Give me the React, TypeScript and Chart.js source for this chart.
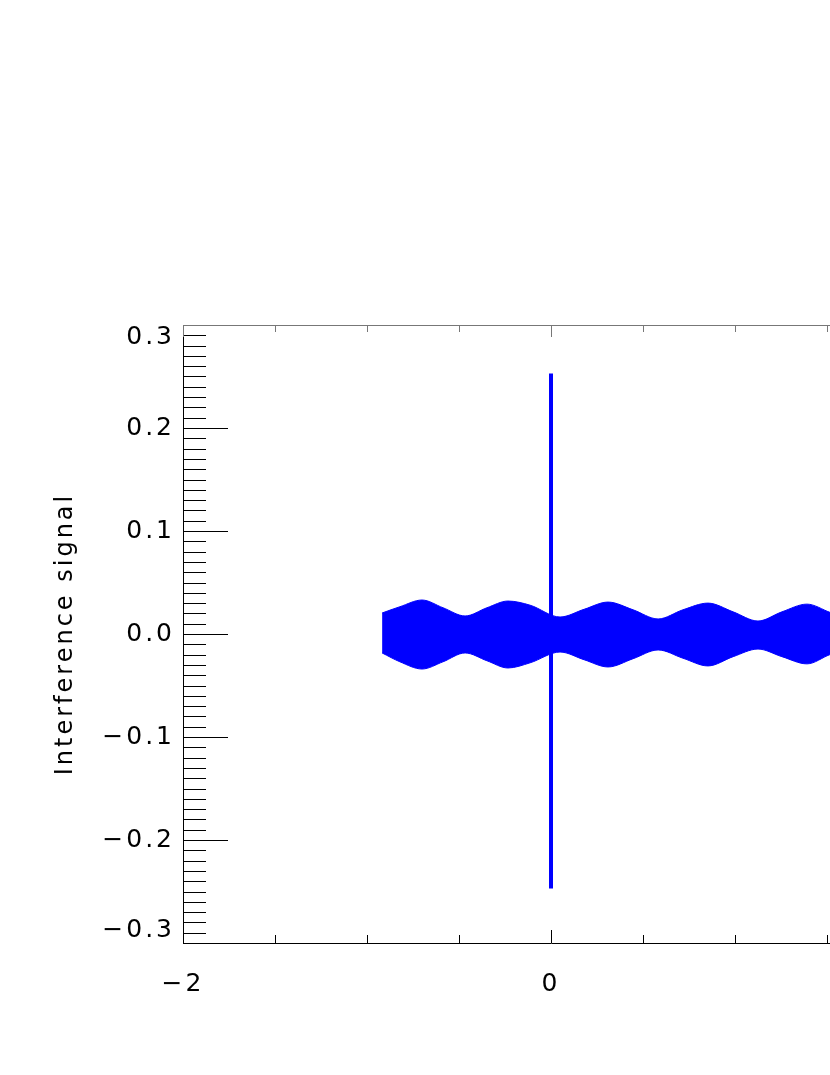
import { useEffect, useRef } from "react";
import { Chart, registerables } from "chart.js";

Chart.register(...registerables);

// Envelope of the densely oscillating interference signal
const envX = [-0.918, -0.821, -0.701, -0.587, -0.467, -0.348, -0.234, -0.114, 0.049, 0.18, 0.31, 0.446, 0.582, 0.717, 0.853, 0.99, 1.125, 1.255, 1.391, 1.516, 1.66];
const envUpper = [0.0204, 0.0265, 0.033, 0.0255, 0.0175, 0.0255, 0.032, 0.028, 0.0165, 0.024, 0.031, 0.0235, 0.0146, 0.0235, 0.03, 0.0215, 0.0126, 0.0215, 0.029, 0.021, 0.012];
const envLower = [-0.0184, -0.027, -0.034, -0.027, -0.0184, -0.026, -0.033, -0.028, -0.0175, -0.025, -0.032, -0.024, -0.0155, -0.0235, -0.031, -0.022, -0.0146, -0.022, -0.029, -0.02, -0.012];

// Central spike at zero path difference
const spikeX = [0, 0];
const spikeY = [-0.247, 0.253];

const xTickValues = [-2, 0, 2];
const xTickLabels = ["\u22122", "0", "2"];
const yTickValues = [-0.3, -0.2, -0.1, 0, 0.1, 0.2, 0.3];
const yTickLabels = ["\u22120.3", "\u22120.2", "\u22120.1", "0.0", "0.1", "0.2", "0.3"];
const xMinorStep = 0.5;
const yMinorStep = 0.01;
const yAxisTitle = "Interference signal";

const BLUE = "#0000ff";
const FONT = "'DejaVu Sans', sans-serif";

const idlAxesPlugin = {
  id: "idlAxes",
  beforeDraw(chart: any) {
    chart.ctx.letterSpacing = "3px";
  },
  afterDraw(chart: any) {
    const { ctx, chartArea } = chart;
    const { left, right, top, bottom } = chartArea;
    const xs = chart.scales.x;
    const ys = chart.scales.y;
    ctx.save();
    ctx.lineWidth = 1;
    ctx.strokeStyle = "#000";
    ctx.beginPath();
    const nY = Math.round((ys.max - ys.min) / yMinorStep);
    for (let i = 0; i <= nY; i++) {
      const v = ys.min + i * yMinorStep;
      const major = Math.abs(v * 10 - Math.round(v * 10)) < 1e-6;
      const p = Math.round(ys.getPixelForValue(v)) + 0.5;
      ctx.moveTo(left, p);
      ctx.lineTo(left + (major ? 45 : 23), p);
    }
    const nX = Math.round((xs.max - xs.min) / xMinorStep);
    for (let i = 0; i <= nX; i++) {
      const v = xs.min + i * xMinorStep;
      const major = Math.abs(v / 2 - Math.round(v / 2)) < 1e-6;
      const p = Math.round(xs.getPixelForValue(v)) + 0.5;
      ctx.moveTo(p, bottom);
      ctx.lineTo(p, bottom - (major ? 13 : 8));
    }
    ctx.stroke();
    ctx.strokeStyle = "#777";
    ctx.beginPath();
    ctx.moveTo(left, top + 0.5);
    ctx.lineTo(right, top + 0.5);
    ctx.moveTo(right - 0.5, top);
    ctx.lineTo(right - 0.5, bottom);
    for (let i = 0; i <= nX; i++) {
      const v = xs.min + i * xMinorStep;
      const major = Math.abs(v / 2 - Math.round(v / 2)) < 1e-6;
      const p = Math.round(xs.getPixelForValue(v)) + 0.5;
      ctx.moveTo(p, top);
      ctx.lineTo(p, top + (major ? 12 : 7));
    }
    ctx.stroke();
    ctx.restore();
  },
};

export default function App() {
  const ref = useRef<HTMLCanvasElement | null>(null);

  useEffect(() => {
    if (!ref.current) return;
    const chart = new Chart(ref.current, {
      type: "line",
      data: {
        datasets: [
          {
            data: envX.map((x, i) => ({ x, y: envUpper[i] })),
            borderColor: BLUE,
            backgroundColor: BLUE,
            borderWidth: 1,
            pointRadius: 0,
            fill: "+1",
            cubicInterpolationMode: "monotone",
          },
          {
            data: envX.map((x, i) => ({ x, y: envLower[i] })),
            borderColor: BLUE,
            backgroundColor: BLUE,
            borderWidth: 1,
            pointRadius: 0,
            fill: false,
            cubicInterpolationMode: "monotone",
          },
          {
            data: spikeX.map((x, i) => ({ x, y: spikeY[i] })),
            borderColor: BLUE,
            borderWidth: 4,
            pointRadius: 0,
            fill: false,
          },
        ],
      },
      options: {
        animation: false,
        responsive: false,
        devicePixelRatio: 1,
        layout: { padding: { top: 325, right: 81, left: 0, bottom: 0 } },
        plugins: { legend: { display: false }, tooltip: { enabled: false } },
        scales: {
          x: {
            type: "linear",
            min: -2,
            max: 2,
            grid: { display: false, drawTicks: false },
            border: { display: true, color: "#000", width: 1 },
            afterBuildTicks: (s: any) => {
              s.ticks = xTickValues.map((v) => ({ value: v }));
            },
            afterFit: (s: any) => {
              s.height = 132;
            },
            ticks: {
              color: "#000",
              padding: 26,
              maxRotation: 0,
              autoSkip: false,
              font: { family: FONT, size: 25 },
              callback: (v: any) => {
                const i = xTickValues.indexOf(Number(v));
                return i >= 0 ? xTickLabels[i] : "";
              },
            },
          },
          y: {
            type: "linear",
            min: -0.3,
            max: 0.3,
            grid: { display: false, drawTicks: false },
            border: { display: true, color: "#000", width: 1 },
            afterBuildTicks: (s: any) => {
              s.ticks = yTickValues.map((v) => ({ value: v }));
            },
            afterFit: (s: any) => {
              s.width = 183;
            },
            title: {
              display: true,
              text: yAxisTitle,
              color: "#000",
              font: { family: FONT, size: 24 },
              padding: { top: 51, bottom: 0 },
            },
            ticks: {
              color: "#000",
              padding: 8,
              autoSkip: false,
              font: { family: FONT, size: 25, lineHeight: 1 },
              callback: (v: any) => {
                const n = Number(v);
                const i = yTickValues.findIndex((t) => Math.abs(t - n) < 1e-9);
                const lab = i >= 0 ? yTickLabels[i] : "";
                if (i === yTickValues.length - 1) return ["", lab];
                if (i === 0) return [lab, ""];
                return lab;
              },
            },
          },
        },
      },
      plugins: [idlAxesPlugin],
    } as any);
    return () => chart.destroy();
  }, []);

  return (
    <div
      style={{
        position: "fixed",
        left: 0,
        top: 0,
        width: 830,
        height: 1075,
        overflow: "hidden",
        background: "#fff",
      }}
    >
      <canvas ref={ref} width={1000} height={1075} style={{ display: "block", width: 1000, height: 1075 }} />
    </div>
  );
}
